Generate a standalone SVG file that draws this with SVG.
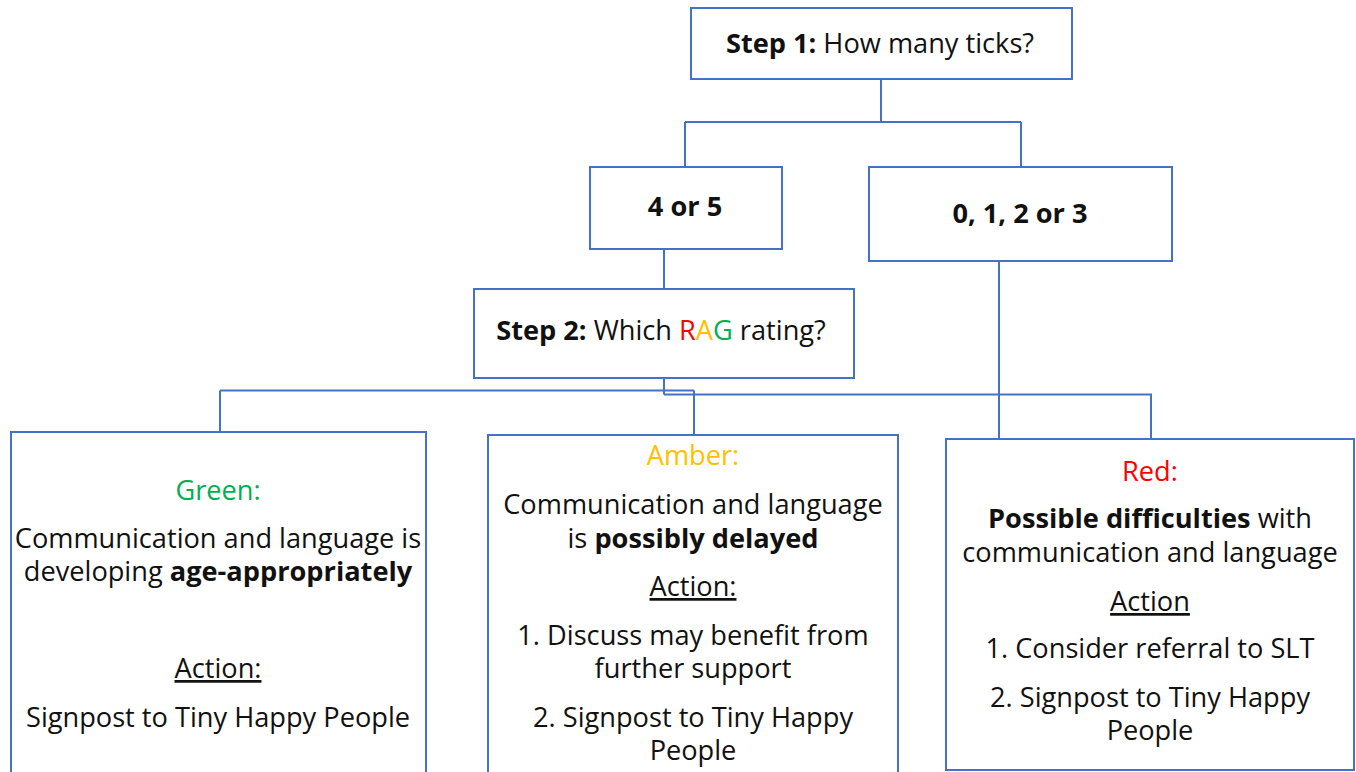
<svg xmlns="http://www.w3.org/2000/svg" width="1356" height="772" viewBox="0 0 1356 772">
<style>
.box{fill:#fff;stroke:#4472C4;stroke-width:2}
.con{fill:none;stroke:#4472C4;stroke-width:2}
text{font-family:"Open Sans","Noto Sans",sans-serif;font-size:27.2px;fill:#111;text-anchor:middle}
.b{font-weight:bold}
.u{text-decoration:underline}
.g{fill:#00B050}.a{fill:#FFC000}.r{fill:#FF0000}
</style>
<rect width="1356" height="772" fill="#fff"/>
<g id="connectors">
<path class="con" d="M881,79V122M685,122H1021M685,122V167M1021,122V167"/>
<path class="con" d="M664,249V289"/>
<path class="con" d="M664,378V394.5M220,390.5H694M220,390.5V432M694,390.5V435M664,394.5H1151V439"/>
<path class="con" d="M999,261V439"/>
</g>
<g id="step1">
<rect class="box" x="691" y="8" width="381" height="71"/>
<text x="880" y="53"><tspan class="b">Step 1:</tspan> How many ticks?</text>
</g>
<g id="n45">
<rect class="box" x="590" y="167" width="192" height="82"/>
<text class="b" x="685" y="216">4 or 5</text>
</g>
<g id="n0123">
<rect class="box" x="869" y="167" width="303" height="94"/>
<text class="b" x="1020" y="223">0, 1, 2 or 3</text>
</g>
<g id="step2">
<rect class="box" x="474" y="289" width="380" height="89"/>
<text x="661" y="340"><tspan class="b">Step 2:</tspan> Which <tspan class="r">R</tspan><tspan class="a">A</tspan><tspan class="g">G</tspan> rating?</text>
</g>
<g id="green">
<rect class="box" x="11" y="432" width="415" height="360"/>
<text class="g" x="218" y="500">Green:</text>
<text x="218" y="548">Communication and language is<tspan x="218" y="581">developing <tspan class="b">age-appropriately</tspan></tspan></text>
<text class="u" x="218" y="678">Action:</text>
<text x="218" y="727">Signpost to Tiny Happy People</text>
</g>
<g id="amber">
<rect class="box" x="488" y="435" width="410" height="360"/>
<text class="a" x="693" y="465">Amber:</text>
<text x="693" y="514">Communication and language<tspan x="693" y="548">is <tspan class="b">possibly delayed</tspan></tspan></text>
<text class="u" x="693" y="596">Action:</text>
<text x="693" y="645">1. Discuss may benefit from<tspan x="693" y="678">further support</tspan></text>
<text x="693" y="727">2. Signpost to Tiny Happy<tspan x="693" y="760">People</tspan></text>
</g>
<g id="red">
<rect class="box" x="946" y="439" width="408" height="331"/>
<text class="r" x="1150" y="481">Red:</text>
<text x="1150" y="528"><tspan class="b">Possible difficulties</tspan> with<tspan x="1150" y="562">communication and language</tspan></text>
<text class="u" x="1150" y="611">Action</text>
<text x="1150" y="658">1. Consider referral to SLT</text>
<text x="1150" y="707">2. Signpost to Tiny Happy<tspan x="1150" y="740">People</tspan></text>
</g>
</svg>
